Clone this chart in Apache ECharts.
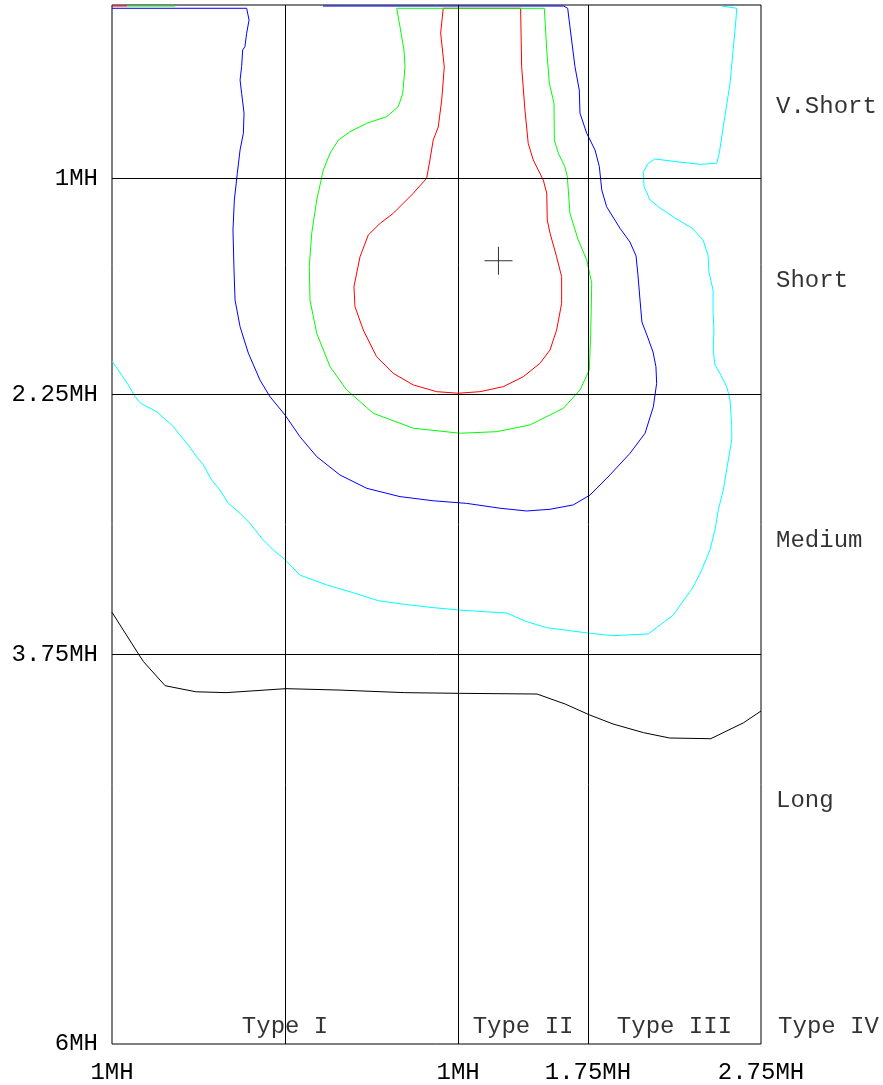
<!DOCTYPE html>
<html>
<head>
<meta charset="utf-8">
<script src="https://cdn.jsdelivr.net/npm/echarts@6/dist/echarts.min.js"></script>
<style>
html,body{margin:0;padding:0;background:#fff;}
#chart{width:883px;height:1085px;}
</style>
</head>
<body>
<div id="chart"></div>
<script>
// ---- axis ticks ----
var xTickValues = [-1, 1, 1.75, 2.75];
var xTickLabels = ['1MH', '1MH', '1.75MH', '2.75MH'];
var yTickValues = [1, 2.25, 3.75, 6];
var yTickLabels = ['1MH', '2.25MH', '3.75MH', '6MH'];
var gridXValues = [0, 1, 1.75];
var gridYValues = [1, 2.25, 3.75];

// ---- region labels ----
var typeLabels = ['Type I', 'Type II', 'Type III', 'Type IV'];
var typeLabelX = [0.0, 1.375, 2.25, 3.14];
var typeLabelY = 5.902;
var lengthLabels = ['V.Short', 'Short', 'Medium', 'Long'];
var lengthLabelY = [0.589, 1.594, 3.096, 4.597];
var lengthLabelX = 2.837;

// ---- centre marker ----
var centrePoint = [1.233, 1.477];

// ---- contours ----
var redContour = [
  [0.914,0.019],[0.899,0.162],[0.920,0.358],[0.905,0.549],[0.885,0.705],[0.856,0.780],
  [0.837,0.895],[0.818,1.001],[0.741,1.087],[0.625,1.203],[0.549,1.261],[0.481,1.328],
  [0.433,1.454],[0.398,1.627],[0.404,1.742],[0.452,1.877],[0.529,2.031],[0.625,2.127],
  [0.741,2.194],[0.876,2.233],[1.001,2.242],[1.126,2.233],[1.261,2.204],[1.376,2.147],
  [1.473,2.069],[1.531,1.992],[1.569,1.877],[1.598,1.723],[1.598,1.569],[1.569,1.454],
  [1.531,1.318],[1.515,1.242],[1.512,1.087],[1.492,1.011],[1.463,0.953],[1.434,0.895],
  [1.405,0.799],[1.386,0.606],[1.367,0.356],[1.361,0.019],[0.914,0.019]
];
var redEdge = [[-1.0,0.006],[-0.913,0.006]];

var greenContour = [
  [0.645,0.019],[0.664,0.125],[0.687,0.260],[0.693,0.356],[0.680,0.510],[0.654,0.587],
  [0.587,0.645],[0.472,0.683],[0.375,0.732],[0.308,0.780],[0.260,0.856],[0.221,0.953],
  [0.183,1.126],[0.154,1.318],[0.140,1.511],[0.144,1.704],[0.183,1.896],[0.260,2.089],
  [0.356,2.223],[0.510,2.358],[0.741,2.444],[1.011,2.473],[1.223,2.464],[1.415,2.425],
  [1.608,2.329],[1.704,2.223],[1.758,2.108],[1.766,1.896],[1.772,1.607],[1.743,1.473],
  [1.694,1.357],[1.646,1.203],[1.631,0.992],[1.617,0.934],[1.579,0.856],[1.556,0.780],
  [1.554,0.568],[1.527,0.452],[1.512,0.260],[1.498,0.019],[0.645,0.019]
];
var greenEdge = [[-0.913,0.006],[-0.636,0.006]];

var blueContour = [
  [-1.0,0.019],[-0.222,0.019],[-0.208,0.087],[-0.222,0.163],[-0.232,0.241],[-0.245,0.260],
  [-0.251,0.356],[-0.260,0.433],[-0.251,0.510],[-0.237,0.625],[-0.241,0.741],[-0.260,0.837],
  [-0.276,0.972],[-0.293,1.126],[-0.301,1.299],[-0.295,1.530],[-0.289,1.704],[-0.260,1.858],
  [-0.212,2.011],[-0.145,2.166],[-0.087,2.262],[0.000,2.368],[0.086,2.493],[0.183,2.608],
  [0.317,2.714],[0.472,2.791],[0.664,2.839],[0.856,2.863],[1.049,2.878],[1.242,2.906],
  [1.396,2.922],[1.531,2.912],[1.665,2.887],[1.762,2.830],[1.877,2.714],[1.993,2.589],
  [2.080,2.473],[2.128,2.320],[2.147,2.185],[2.143,2.089],[2.126,2.004],[2.097,1.923],
  [2.062,1.831],[2.051,1.704],[2.039,1.559],[2.028,1.449],[1.993,1.369],[1.935,1.289],
  [1.858,1.165],[1.830,1.068],[1.824,1.011],[1.816,0.934],[1.791,0.837],[1.743,0.741],
  [1.704,0.625],[1.700,0.491],[1.675,0.356],[1.646,0.125],[1.633,0.019],[1.610,0.006],
  [0.219,0.006]
];

var cyanContour = [
  [-1.0,2.056],[-0.944,2.137],[-0.906,2.194],[-0.867,2.262],[-0.834,2.300],[-0.742,2.349],
  [-0.649,2.431],[-0.607,2.483],[-0.559,2.541],[-0.511,2.608],[-0.472,2.656],[-0.424,2.743],
  [-0.376,2.801],[-0.328,2.878],[-0.260,2.935],[-0.203,2.993],[-0.126,3.089],[-0.068,3.147],
  [0.001,3.205],[0.086,3.292],[0.241,3.349],[0.394,3.394],[0.539,3.440],[0.689,3.461],
  [0.856,3.480],[1.008,3.494],[1.145,3.503],[1.280,3.511],[1.396,3.561],[1.512,3.596],
  [1.644,3.613],[1.760,3.628],[1.897,3.642],[2.099,3.632],[2.243,3.523],[2.359,3.359],
  [2.407,3.263],[2.455,3.147],[2.484,3.032],[2.503,2.916],[2.532,2.801],[2.561,2.628],
  [2.581,2.512],[2.581,2.435],[2.571,2.281],[2.552,2.204],[2.513,2.127],[2.484,2.079],
  [2.474,1.992],[2.478,1.877],[2.473,1.761],[2.473,1.646],[2.449,1.542],[2.444,1.444],
  [2.415,1.357],[2.351,1.288],[2.253,1.230],[2.166,1.172],[2.109,1.126],[2.074,1.049],
  [2.070,0.963],[2.099,0.914],[2.137,0.889],[2.263,0.905],[2.397,0.920],[2.494,0.914],
  [2.509,0.856],[2.532,0.703],[2.571,0.452],[2.605,0.087],[2.610,0.019],[2.523,0.006]
];

var blackContour = [
  [-1.0,3.507],[-0.843,3.754],[-0.818,3.792],[-0.693,3.931],[-0.516,3.966],[-0.341,3.971],
  [0.005,3.948],[0.312,3.956],[0.689,3.971],[1.008,3.975],[1.456,3.979],[1.619,4.037],
  [1.760,4.100],[1.895,4.152],[2.071,4.202],[2.222,4.233],[2.460,4.237],[2.649,4.145],
  [2.750,4.077]
];

var FONT = "'Courier New', 'Liberation Mono', monospace";

function lineSeries(data, color) {
  return {
    type: 'line', data: data, showSymbol: false, symbol: 'none', silent: true,
    lineStyle: { color: color, width: 1 }, z: 3, animation: false
  };
}

var chart = echarts.init(document.getElementById('chart'), null, { renderer: 'canvas' });

var markLineData = [];
gridXValues.forEach(function (v) { markLineData.push({ xAxis: v }); });
gridYValues.forEach(function (v) { markLineData.push({ yAxis: v }); });

var typeData = typeLabels.map(function (t, i) { return { value: [typeLabelX[i], typeLabelY], name: t }; });
var lengthData = lengthLabels.map(function (t, i) { return { value: [lengthLabelX, lengthLabelY[i]], name: t }; });

var option = {
  animation: false,
  backgroundColor: '#fff',
  grid: { left: 112, top: 5, width: 649, height: 1039, show: true, borderColor: '#000', borderWidth: 1, backgroundColor: 'transparent' },
  xAxis: {
    type: 'value', min: -1, max: 2.75,
    axisLine: { show: false, onZero: false },
    axisTick: { show: false },
    splitLine: { show: false },
    axisLabel: {
      customValues: xTickValues,
      showMinLabel: true, showMaxLabel: true,
      margin: 17, color: '#000', fontFamily: FONT, fontSize: 24,
      formatter: function (v) { var i = xTickValues.indexOf(v); return i >= 0 ? xTickLabels[i] : ''; }
    }
  },
  yAxis: {
    type: 'value', min: 0, max: 6, inverse: true,
    axisLine: { show: false, onZero: false },
    axisTick: { show: false },
    splitLine: { show: false },
    axisLabel: {
      customValues: yTickValues,
      showMinLabel: true, showMaxLabel: true,
      margin: 14, color: '#000', fontFamily: FONT, fontSize: 24,
      formatter: function (v) { var i = yTickValues.indexOf(v); return i >= 0 ? yTickLabels[i] : ''; }
    }
  },
  series: [
    {
      type: 'line', data: [], silent: true,
      markLine: {
        silent: true, symbol: ['none', 'none'], animation: false,
        label: { show: false },
        lineStyle: { color: '#000', width: 1, type: 'solid' },
        data: markLineData
      }
    },
    lineSeries(redContour, '#ff0000'),
    lineSeries(redEdge, '#ff0000'),
    lineSeries(greenContour, '#00ff00'),
    lineSeries(greenEdge, '#00ff00'),
    lineSeries(blueContour, '#0000ff'),
    lineSeries(cyanContour, '#00ffff'),
    lineSeries(blackContour, '#000000'),
    {
      type: 'scatter', data: [centrePoint], silent: true,
      symbol: 'path://M0,13.5H28V14.5H0Z M13.5,0H14.5V28H13.5Z',
      symbolSize: 28, itemStyle: { color: '#000' }, z: 5
    },
    {
      type: 'scatter', data: typeData, symbolSize: 0, silent: true, clip: false,
      label: { show: true, position: 'inside', formatter: '{b}', color: '#000', fontFamily: FONT, fontSize: 24 }
    },
    {
      type: 'scatter', data: lengthData, symbolSize: 0, silent: true, clip: false,
      label: { show: true, position: 'right', distance: 0, formatter: '{b}', color: '#000', fontFamily: FONT, fontSize: 24 }
    }
  ]
};
chart.setOption(option);
</script>
</body>
</html>
